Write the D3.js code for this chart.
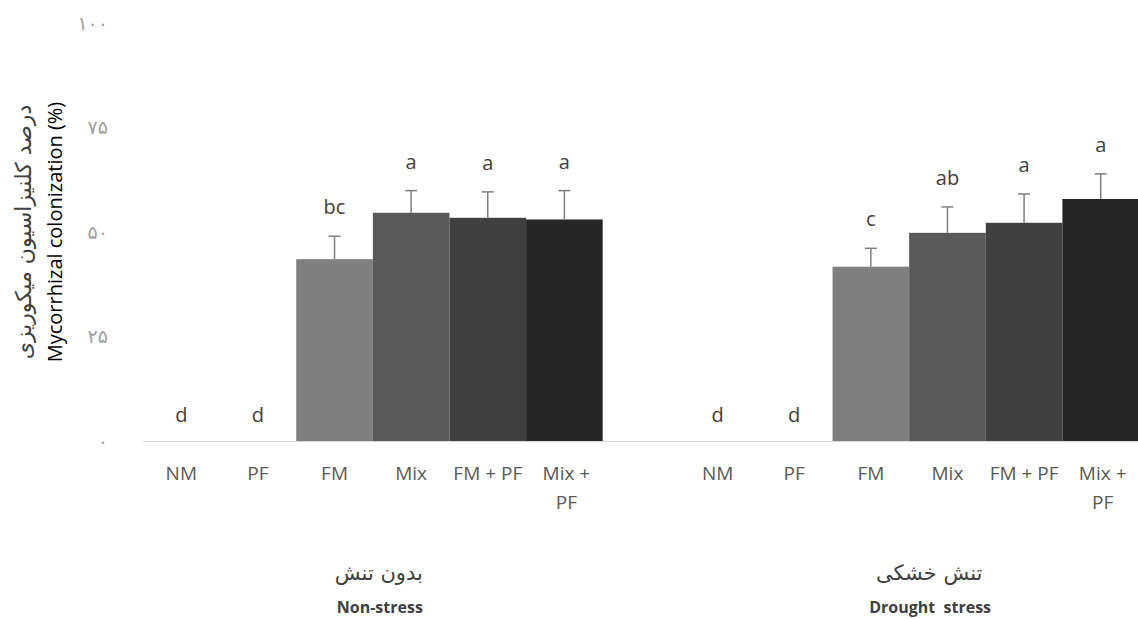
<!DOCTYPE html>
<html>
<head>
<meta charset="utf-8">
<script src="https://cdn.jsdelivr.net/npm/d3@7"></script>
<style>
  body { margin: 0; background: #fff; }
  svg { display: block; }
</style>
</head>
<body>
<svg id="chart" width="1138" height="619"></svg>
<script>
// Data
const treatments = ["NM", "PF", "FM", "Mix", "FM + PF", "Mix + PF"];
const treatmentLines = [["NM"], ["PF"], ["FM"], ["Mix"], ["FM + PF"], ["Mix +", "PF"]];
const groupKeys = ["non", "drought"];
const groupsFa = ["بدون تنش", "تنش خشکی"];
const groupsEn = ["Non-stress", "Drought  stress"];

const nonStress = [0, 0, 43.5, 54.6, 53.4, 53.0];
const nonStressErr = [0, 0, 5.5, 5.3, 6.2, 6.9];
const nonStressLetters = ["d", "d", "bc", "a", "a", "a"];

const drought = [0, 0, 41.7, 49.8, 52.2, 57.9];
const droughtErr = [0, 0, 4.4, 6.2, 6.9, 6.0];
const droughtLetters = ["d", "d", "c", "ab", "a", "a"];

const yTicks = [0, 25, 50, 75, 100];
const yTickLabels = ["۰", "۲۵", "۵۰", "۷۵", "۱۰۰"];
const barColors = ["#ffffff", "#ffffff", "#7f7f7f", "#595959", "#404040", "#262626"];

// Layout
const width = 1138, height = 619;
const margin = { top: 23, right: -1, bottom: 178, left: 143 };

const rows = [];
groupKeys.forEach((g, gi) => {
    const vals = gi === 0 ? nonStress : drought;
    const errs = gi === 0 ? nonStressErr : droughtErr;
    const lets = gi === 0 ? nonStressLetters : droughtLetters;
    treatments.forEach((t, i) => {
        rows.push({ key: g + "|" + t, group: gi, idx: i, value: vals[i], err: errs[i], letter: lets[i] });
    });
});

// one empty slot between the two groups, like the original category axis
const slots = [...rows.slice(0, 6).map(d => d.key), "gap", ...rows.slice(6).map(d => d.key)];

const x = d3.scaleBand()
    .domain(slots)
    .range([margin.left, width - margin.right])
    .paddingInner(0)
    .paddingOuter(0);

const y = d3.scaleLinear()
    .domain([0, 100])
    .range([height - margin.bottom, margin.top]);

const $svg = d3.select("#chart");

// Baseline
$svg.append("line")
    .attr("x1", margin.left)
    .attr("x2", width)
    .attr("y1", y(0) + 0.5)
    .attr("y2", y(0) + 0.5)
    .attr("stroke", "#d9d9d9")
    .attr("stroke-width", 1.2);

// Y tick labels (no axis line)
$svg.append("g")
  .selectAll("text")
  .data(yTicks)
  .join("text")
    .attr("x", 108)
    .attr("y", d => y(d))
    .attr("dy", "0.35em")
    .attr("text-anchor", "end")
    .attr("font-family", "DejaVu Sans, sans-serif")
    .attr("font-size", 19)
    .attr("fill", "#a0a0a0")
    .text((d, i) => yTickLabels[i]);

// Bars
$svg.append("g")
  .selectAll("rect")
  .data(rows.filter(d => d.value > 0))
  .join("rect")
    .attr("x", d => x(d.key))
    .attr("y", d => y(d.value))
    .attr("width", x.bandwidth())
    .attr("height", d => y(0) - y(d.value))
    .attr("fill", d => barColors[d.idx]);

// Error bars (upper only)
const $err = $svg.append("g")
    .attr("stroke", "#7f7f7f")
    .attr("stroke-width", 1.5);

$err.selectAll("line.stem")
  .data(rows.filter(d => d.err > 0))
  .join("line")
    .attr("class", "stem")
    .attr("x1", d => x(d.key) + x.bandwidth() / 2)
    .attr("x2", d => x(d.key) + x.bandwidth() / 2)
    .attr("y1", d => y(d.value))
    .attr("y2", d => y(d.value + d.err));

$err.selectAll("line.cap")
  .data(rows.filter(d => d.err > 0))
  .join("line")
    .attr("class", "cap")
    .attr("x1", d => x(d.key) + x.bandwidth() / 2 - 6)
    .attr("x2", d => x(d.key) + x.bandwidth() / 2 + 6)
    .attr("y1", d => y(d.value + d.err))
    .attr("y2", d => y(d.value + d.err));

// Significance letters
$svg.append("g")
  .selectAll("text")
  .data(rows)
  .join("text")
    .attr("x", d => x(d.key) + x.bandwidth() / 2)
    .attr("y", d => y(d.value + d.err) - (d.value > 0 ? 22 : 19))
    .attr("text-anchor", "middle")
    .attr("font-family", "Open Sans, sans-serif")
    .attr("font-size", 20)
    .attr("fill", "#404040")
    .text(d => d.letter);

// Category labels
const $cat = $svg.append("g")
    .attr("font-family", "Open Sans, sans-serif")
    .attr("font-size", 19)
    .attr("fill", "#595959")
    .attr("text-anchor", "middle");

$cat.selectAll("text")
  .data(rows)
  .join("text")
    .attr("x", d => x(d.key) + x.bandwidth() / 2)
    .attr("y", y(0) + 39)
    .each(function (d) {
        d3.select(this).selectAll("tspan")
          .data(treatmentLines[d.idx])
          .join("tspan")
            .attr("x", x(d.key) + x.bandwidth() / 2 + (treatmentLines[d.idx].length > 1 ? 2 : 0))
            .attr("dy", (t, i) => i === 0 ? 0 : 29)
            .text(t => t);
    });

// Group labels
const groupCenter = gi => {
    const keys = rows.filter(d => d.group === gi).map(d => d.key);
    return (x(keys[0]) + x(keys[keys.length - 1]) + x.bandwidth()) / 2;
};

$svg.append("g")
  .selectAll("text")
  .data(groupsFa)
  .join("text")
    .attr("x", (d, i) => groupCenter(i) + 6 + i * 14)
    .attr("y", 580)
    .attr("text-anchor", "middle")
    .attr("font-family", "DejaVu Sans, sans-serif")
    .attr("font-size", 21)
    .attr("fill", "#404040")
    .text(d => d);

$svg.append("g")
  .selectAll("text")
  .data(groupsEn)
  .join("text")
    .attr("x", (d, i) => groupCenter(i) + 7 + i * 14)
    .attr("y", 613)
    .attr("text-anchor", "middle")
    .attr("font-family", "Open Sans, sans-serif")
    .attr("font-weight", "bold")
    .attr("font-size", 16)
    .attr("fill", "#404040")
    .attr("xml:space", "preserve")
    .style("white-space", "pre")
    .text(d => d);

// Y axis title (two lines, rotated)
const $yTitle = $svg.append("g")
    .attr("transform", `translate(0,${(y(0) + y(100)) / 2}) rotate(-90)`)
    .attr("text-anchor", "middle");

$yTitle.append("text")
    .attr("x", 0)
    .attr("y", 31)
    .attr("font-family", "DejaVu Sans, sans-serif")
    .attr("font-size", 22)
    .attr("fill", "#404040")
    .text("درصد کلنیزاسیون میکوریزی");

$yTitle.append("text")
    .attr("x", 0)
    .attr("y", 62)
    .attr("font-family", "Open Sans, sans-serif")
    .attr("font-size", 20)
    .attr("fill", "#000")
    .text("Mycorrhizal colonization (%)");
</script>
</body>
</html>
